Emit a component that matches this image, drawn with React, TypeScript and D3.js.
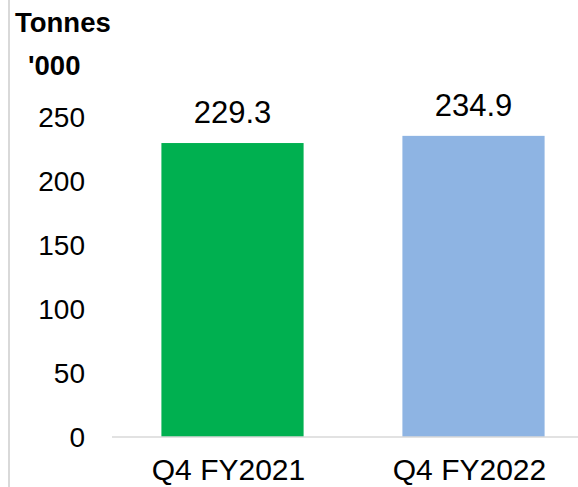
import React from "react";
import * as d3 from "d3";

const categories = ["Q4 FY2021", "Q4 FY2022"];
const values = [229.3, 234.9];
const colors = ["#00b050", "#8eb4e3"];
const yTicks = [0, 50, 100, 150, 200, 250];
const unitLines = ["Tonnes", "'000"];

export default function App() {
  const W = 578, H = 487;
  const x = d3.scaleBand<string>().domain(categories).range([112, 594]).paddingInner(0.41).paddingOuter(0.205);
  const y = d3.scaleLinear().domain([0, 250]).range([437, 116.5]);
  const font = "'Liberation Sans', Arial, sans-serif";
  return (
    <svg width={W} height={H} style={{ position: "absolute", left: 0, top: 0, background: "#fff" }} fontFamily={font}>
      <line x1={9} x2={9} y1={0} y2={H} stroke="#d9d9d9" strokeWidth={2} />
      <text x={15} y={32} fontSize={27.5} fontWeight="bold" fill="#000">{unitLines[0]}</text>
      <text x={28} y={75} fontSize={27.5} fontWeight="bold" fill="#000">{unitLines[1]}</text>
      {yTicks.map((t) => (
        <text key={t} x={85} y={y(t)} dy="0.36em" textAnchor="end" fontSize={28} fill="#000">{t}</text>
      ))}
      {categories.map((c, i) => (
        <g key={c}>
          <rect x={x(c)} y={y(values[i])} width={x.bandwidth()} height={y(0) - y(values[i])} fill={colors[i]} />
          <text x={(x(c) as number) + x.bandwidth() / 2} y={y(values[i]) - 20} textAnchor="middle" fontSize={31} fill="#000">{values[i].toFixed(1)}</text>
          <text x={(x(c) as number) + x.bandwidth() / 2 - 4} y={480} textAnchor="middle" fontSize={30} fill="#000">{c}</text>
        </g>
      ))}
      <line x1={112} x2={W} y1={y(0)} y2={y(0)} stroke="#d9d9d9" strokeWidth={1.5} />
    </svg>
  );
}
